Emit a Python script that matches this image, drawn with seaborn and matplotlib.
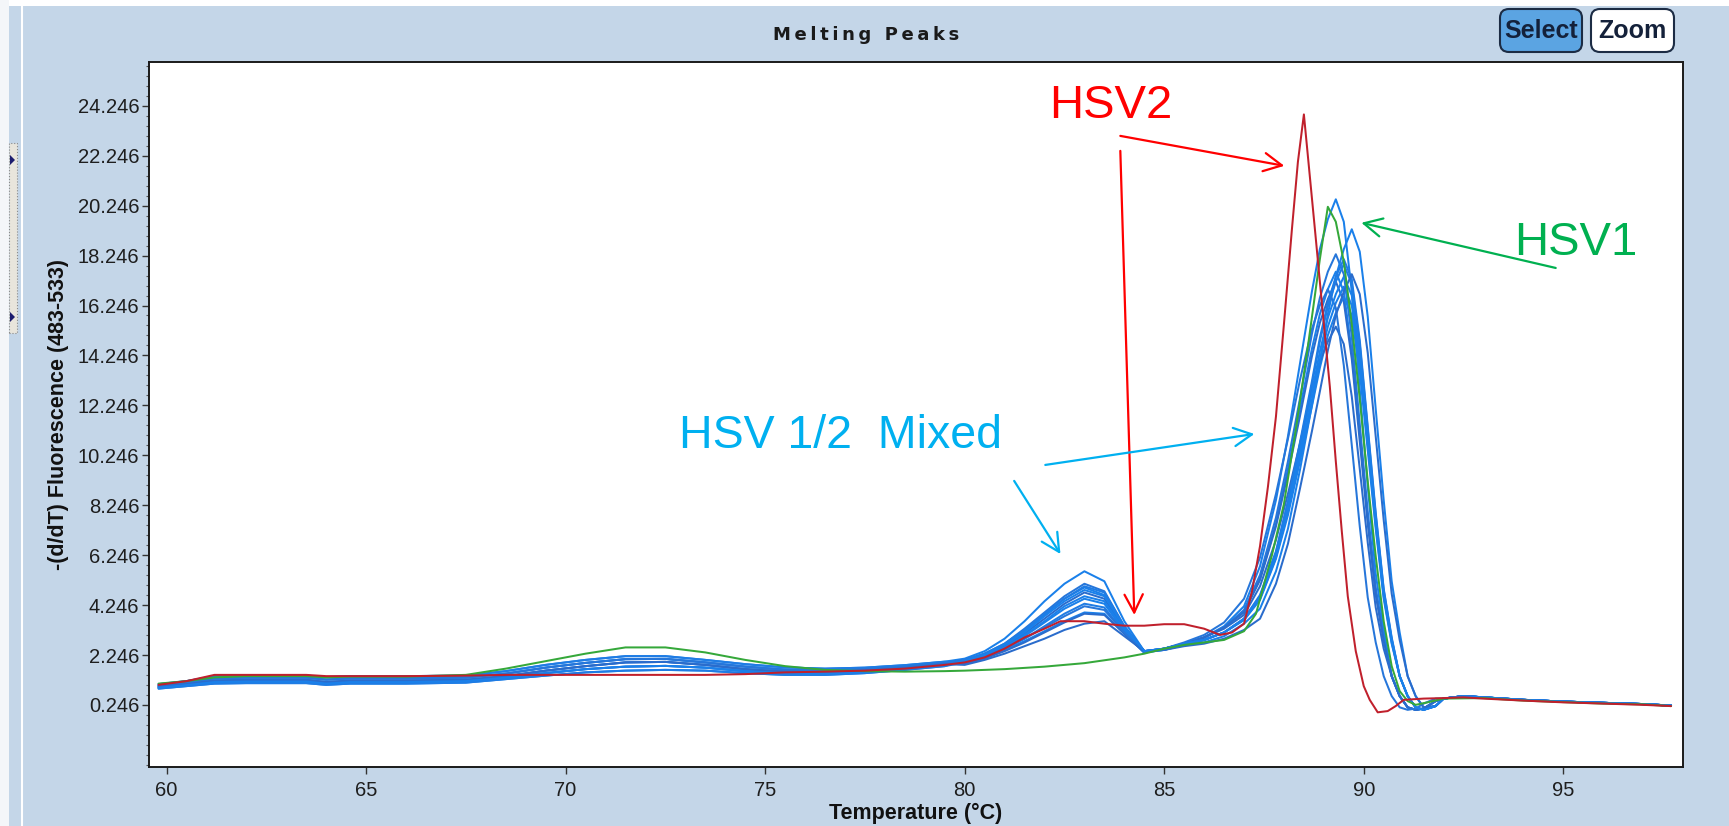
import matplotlib
matplotlib.use("Agg")
import matplotlib.pyplot as plt
from matplotlib import font_manager
from matplotlib.patches import Rectangle, FancyBboxPatch, Polygon
from matplotlib.lines import Line2D
from matplotlib.ticker import FixedLocator
import numpy as np
import pandas as pd
import seaborn as sns

# ---------------------------------------------------------------------------
# Melting-peak data, -(d/dT) fluorescence (483-533) versus temperature
# ---------------------------------------------------------------------------
# Low-temperature stretch shared by the blue traces (five baseline shapes,
# from the top of the band to its bottom)
T_LOW = [59.8, 60.5, 61.2, 62.0, 63.5, 64.0, 64.6, 66.0, 67.5, 68.5, 69.5,
         70.5, 71.5, 72.5, 73.5, 74.5, 75.5, 76.5, 77.5, 78.5, 79.5]
BLUE_LOW_A = [1.08, 1.2, 1.4, 1.42, 1.42, 1.36, 1.4, 1.4, 1.42, 1.6, 1.85,
              2.05, 2.2, 2.2, 2.05, 1.88, 1.75, 1.7, 1.74, 1.84, 1.98]
BLUE_LOW_AB = [1.03, 1.14, 1.31, 1.34, 1.34, 1.26, 1.31, 1.31, 1.34, 1.5, 1.74,
               1.93, 2.08, 2.09, 1.95, 1.78, 1.66, 1.62, 1.68, 1.78, 1.93]
BLUE_LOW_B = [0.98, 1.08, 1.22, 1.25, 1.25, 1.16, 1.22, 1.22, 1.25, 1.4, 1.62,
              1.8, 1.95, 1.97, 1.85, 1.68, 1.58, 1.55, 1.62, 1.72, 1.88]
BLUE_LOW_BC = [0.94, 1.04, 1.16, 1.18, 1.18, 1.1, 1.16, 1.16, 1.2, 1.34, 1.52,
               1.68, 1.78, 1.81, 1.74, 1.6, 1.51, 1.5, 1.57, 1.68, 1.84]
BLUE_LOW_C = [0.9, 1.0, 1.1, 1.12, 1.12, 1.05, 1.1, 1.1, 1.14, 1.28, 1.42,
              1.55, 1.62, 1.65, 1.62, 1.52, 1.45, 1.45, 1.52, 1.65, 1.8]

# Shoulder (first melting peak of the mixed samples)
T_SHOULDER = [80.0, 80.5, 81.0, 81.5, 82.0, 82.5, 83.0, 83.5, 84.0, 84.5, 85.0, 85.5]
# Main melting peak
T_PEAK = [86.0, 86.5, 87.0, 87.4, 87.8, 88.1, 88.4, 88.7, 88.9, 89.1, 89.3, 89.5,
          89.7, 89.9, 90.1, 90.3, 90.5, 90.7, 90.9, 91.1, 91.3, 91.5, 91.8]
# High-temperature tail
T_TAIL = [92.0, 92.5, 93.0, 94.0, 95.0, 96.0, 97.0, 97.7]
BLUE_TAIL = [0.5, 0.6, 0.55, 0.45, 0.38, 0.33, 0.28, 0.22]

BLUE_LOW_KIND = ["A", "AB", "B", "BC", "C", "A", "AB", "B", "BC", "C", "AB", "B", "BC"]

BLUE_SHOULDER = [
    [2.1, 2.4, 2.9, 3.6, 4.4, 5.1, 5.6, 5.2, 3.6, 2.4, 2.45, 2.7],
    [2.05, 2.3, 2.7, 3.3, 3.95, 4.6, 5.1, 4.8, 3.4, 2.4, 2.5, 2.7],
    [2.0, 2.3, 2.65, 3.2, 3.85, 4.5, 4.95, 4.65, 3.35, 2.4, 2.5, 2.7],
    [2.0, 2.25, 2.6, 3.1, 3.7, 4.3, 4.75, 4.5, 3.3, 2.4, 2.5, 2.7],
    [1.95, 2.2, 2.55, 3.0, 3.55, 4.1, 4.5, 4.3, 3.2, 2.35, 2.45, 2.65],
    [1.95, 2.15, 2.5, 2.9, 3.4, 3.9, 4.3, 4.15, 3.15, 2.35, 2.45, 2.65],
    [1.9, 2.15, 2.45, 2.8, 3.2, 3.6, 3.95, 3.9, 3.1, 2.35, 2.5, 2.7],
    [1.9, 2.1, 2.4, 2.75, 3.15, 3.55, 3.9, 3.85, 3.1, 2.35, 2.5, 2.7],
    [2.0, 2.2, 2.55, 3.05, 3.6, 4.2, 4.6, 4.4, 3.25, 2.4, 2.5, 2.7],
    [2.05, 2.3, 2.7, 3.25, 3.9, 4.5, 5.0, 4.75, 3.4, 2.4, 2.5, 2.7],
    [1.95, 2.2, 2.5, 2.9, 3.35, 3.8, 4.2, 4.05, 3.15, 2.35, 2.5, 2.75],
    [1.85, 2.05, 2.3, 2.6, 2.9, 3.25, 3.5, 3.6, 3.0, 2.4, 2.45, 2.6],
    [2.0, 2.25, 2.65, 3.15, 3.8, 4.4, 4.85, 4.6, 3.35, 2.4, 2.5, 2.7],
]

BLUE_PEAK = [
    [2.95, 3.35, 4.0, 5.3, 7.5, 9.7, 12.1, 14.5, 15.9, 16.9, 17.6, 16.8,
     14.4, 11.1, 7.7, 4.75, 2.9, 1.4, 0.6, 0.15, 0.05, 0.1, 0.4],
    [2.95, 3.35, 4.05, 5.45, 7.75, 10.0, 12.5, 15.1, 16.55, 17.6, 18.3, 17.5,
     15.0, 11.5, 8.0, 4.95, 3.0, 1.4, 0.6, 0.15, 0.05, 0.1, 0.4],
    [2.95, 3.4, 4.2, 5.8, 8.45, 11.0, 13.9, 16.8, 18.5, 19.7, 20.5, 19.6,
     16.8, 12.9, 9.0, 5.5, 3.3, 1.4, 0.6, 0.15, 0.05, 0.1, 0.4],
    [2.95, 3.35, 3.95, 5.25, 7.4, 9.5, 11.8, 14.2, 15.55, 16.5, 17.2, 16.4,
     14.1, 10.8, 7.5, 4.65, 2.8, 1.4, 0.6, 0.15, 0.05, 0.1, 0.4],
    [2.75, 3.0, 3.5, 4.1, 5.6, 7.3, 9.65, 12.25, 14.0, 15.9, 17.4, 18.5,
     19.3, 18.4, 15.8, 12.1, 8.45, 5.2, 3.15, 1.4, 0.6, 0.15, 0.2],
    [2.85, 3.15, 3.7, 4.6, 6.35, 8.35, 10.65, 13.05, 14.8, 16.2, 17.2, 17.9,
     17.1, 14.7, 11.3, 7.85, 4.85, 2.9, 1.4, 0.6, 0.15, 0.05, 0.2],
    [2.85, 3.15, 3.65, 4.45, 6.1, 7.85, 10.0, 12.2, 13.75, 15.05, 15.95, 16.6,
     15.85, 13.6, 10.45, 7.3, 4.5, 2.7, 1.4, 0.6, 0.15, 0.05, 0.2],
    [2.95, 3.3, 3.85, 5.0, 6.85, 8.7, 10.7, 12.8, 14.0, 14.8, 15.4, 14.7,
     12.6, 9.7, 6.75, 4.15, 2.5, 1.4, 0.6, 0.15, 0.05, 0.1, 0.4],
    [2.85, 3.15, 3.65, 4.5, 6.15, 8.0, 10.2, 12.45, 14.05, 15.4, 16.35, 17.0,
     16.25, 13.95, 10.7, 7.45, 4.6, 2.75, 1.4, 0.6, 0.15, 0.05, 0.2],
    [2.85, 3.15, 3.7, 4.65, 6.4, 8.4, 10.75, 13.2, 14.95, 16.35, 17.4, 18.1,
     17.3, 14.85, 11.4, 7.95, 4.9, 2.95, 1.4, 0.6, 0.15, 0.05, 0.2],
    [3.05, 3.55, 4.5, 6.15, 8.7, 10.9, 13.25, 15.3, 16.25, 16.9, 16.15, 13.85,
     10.65, 7.4, 4.55, 2.75, 1.4, 0.6, 0.15, 0.05, 0.1, 0.3, 0.5],
    [2.7, 2.9, 3.25, 3.7, 5.1, 6.7, 8.9, 11.2, 12.8, 14.45, 15.85, 16.8,
     17.5, 16.7, 14.35, 11.0, 7.65, 4.7, 2.85, 1.4, 0.6, 0.15, 0.2],
    [2.85, 3.15, 3.7, 4.55, 6.25, 8.15, 10.4, 12.75, 14.4, 15.75, 16.7, 17.4,
     16.65, 14.3, 10.95, 7.65, 4.7, 2.85, 1.4, 0.6, 0.15, 0.05, 0.2],
]
BLUE_SHADES = ["#1a80ea", "#2676da", "#1a80ea", "#2a6ccc", "#1a80ea", "#1f7ce4",
               "#1a80ea", "#2a6ccc", "#1a80ea", "#1f7ce4", "#2676da", "#2a6ccc",
               "#1a80ea"]

# HSV-2 trace
RED_T = [59.8, 60.5, 61.2, 62.0, 63.5, 64.0, 64.6, 66.0, 67.5, 68.5, 69.5,
         70.5, 71.5, 72.5, 73.5, 74.5, 75.5, 76.5, 77.5, 78.5, 79.5,
         80.0, 80.5, 81.0, 81.5, 82.0, 82.4, 83.0, 83.5, 84.0, 84.5, 85.0, 85.5,
         86.0, 86.4, 86.7, 87.0, 87.2, 87.4, 87.6, 87.8, 88.0, 88.2, 88.35, 88.5,
         88.65, 88.8, 89.0, 89.15, 89.3, 89.45, 89.6, 89.8, 90.0, 90.15, 90.35,
         90.6, 90.8, 91.0, 91.5, 92.0, 92.5, 93.0, 94.0, 95.0, 96.0, 97.0, 97.7]
RED_V = [1.05, 1.2, 1.45, 1.45, 1.45, 1.4, 1.4, 1.4, 1.42, 1.45, 1.45,
         1.45, 1.45, 1.45, 1.45, 1.48, 1.55, 1.58, 1.62, 1.7, 1.85,
         1.95, 2.15, 2.5, 2.95, 3.3, 3.6, 3.6, 3.5, 3.42, 3.42, 3.48, 3.48,
         3.3, 3.05, 3.15, 3.5, 4.8, 6.6, 9.0, 11.8, 15.5, 19.3, 22.0, 23.9,
         21.4, 18.9, 15.5, 13.0, 10.0, 7.2, 4.6, 2.4, 1.0, 0.45, -0.05,
         0.0, 0.2, 0.45, 0.5, 0.52, 0.55, 0.5, 0.42, 0.35, 0.3, 0.25, 0.2]

# HSV-1 trace
GREEN_T = [59.8, 60.5, 61.2, 62.0, 63.5, 64.0, 64.6, 66.0, 67.5, 68.5, 69.5,
           70.5, 71.5, 72.5, 73.5, 74.5, 75.5, 76.5, 77.5, 78.5, 79.5,
           80.0, 81.0, 82.0, 83.0, 84.0, 84.5, 85.0, 85.5, 86.0, 86.5, 87.0,
           87.3, 87.7, 88.0, 88.3, 88.6, 88.9, 89.1, 89.3, 89.5, 89.7, 89.9,
           90.1, 90.3, 90.5, 90.7, 90.9, 91.1, 91.3, 91.6, 92.0, 93.0, 94.0,
           95.0, 96.0, 97.0, 97.7]
GREEN_V = [1.1, 1.2, 1.35, 1.4, 1.4, 1.35, 1.38, 1.38, 1.45, 1.7, 2.0,
           2.3, 2.55, 2.55, 2.35, 2.05, 1.8, 1.65, 1.6, 1.58, 1.6,
           1.62, 1.68, 1.78, 1.92, 2.15, 2.3, 2.5, 2.65, 2.75, 2.85, 3.2,
           3.9, 6.25, 8.3, 11.3, 14.6, 18.1, 20.2, 19.6, 18.0, 15.5, 12.5,
           9.2, 6.2, 3.6, 1.8, 0.8, 0.4, 0.25, 0.35, 0.5, 0.52, 0.42,
           0.36, 0.3, 0.27, 0.2]

# Axis ticks
X_TICKS = [60, 65, 70, 75, 80, 85, 90, 95]
Y_TICKS = [0.246, 2.246, 4.246, 6.246, 8.246, 10.246, 12.246, 14.246,
           16.246, 18.246, 20.246, 22.246, 24.246]

# ---------------------------------------------------------------------------
blue_low = {"A": BLUE_LOW_A, "AB": BLUE_LOW_AB, "B": BLUE_LOW_B,
            "BC": BLUE_LOW_BC, "C": BLUE_LOW_C}
frames = []
palette = {}
order = []
for i, (kind, sh, pk) in enumerate(zip(BLUE_LOW_KIND, BLUE_SHOULDER, BLUE_PEAK)):
    t = T_LOW + T_SHOULDER + T_PEAK + T_TAIL
    v = blue_low[kind] + sh + pk + BLUE_TAIL
    name = f"mixed {i + 1}"
    frames.append(pd.DataFrame({"temp": t, "value": v, "sample": name}))
    palette[name] = BLUE_SHADES[i]
    order.append(name)
frames.append(pd.DataFrame({"temp": GREEN_T, "value": GREEN_V, "sample": "HSV1"}))
frames.append(pd.DataFrame({"temp": RED_T, "value": RED_V, "sample": "HSV2"}))
palette["HSV1"] = "#35a83a"
palette["HSV2"] = "#c0202c"
order += ["HSV1", "HSV2"]
df = pd.concat(frames, ignore_index=True)

sns.set_theme(style="white")
installed = {f.name for f in font_manager.fontManager.ttflist}
NARROW = "Liberation Sans Narrow" if "Liberation Sans Narrow" in installed else "Liberation Sans"
plt.rcParams["font.family"] = ["Liberation Sans", "DejaVu Sans"]

BG = "#c4d6e8"
W, H = 1729, 826
fig = plt.figure(figsize=(W / 100, H / 100), dpi=100, facecolor=BG)

# frame in pixels: left 149, right 1683, top 62, bottom 767
ax = fig.add_axes([149 / W, 1 - 767 / H, (1683 - 149) / W, (767 - 62) / H])
ax.set_facecolor("white")

sns.lineplot(data=df, x="temp", y="value", hue="sample", hue_order=order,
             palette=palette, estimator=None, sort=False, legend=False,
             linewidth=1.45, ax=ax)

ax.set_xlim(59.56, 98.0)
ax.set_ylim(-2.24, 26.0)
ax.xaxis.set_major_locator(FixedLocator(X_TICKS))
ax.set_xticklabels([str(x) for x in X_TICKS])
ax.yaxis.set_major_locator(FixedLocator(Y_TICKS))
ax.set_yticklabels([f"{y:.3f}" for y in Y_TICKS])
ax.yaxis.set_minor_locator(FixedLocator(np.arange(-2.154, 26.0, 0.4)))
ax.tick_params(axis="both", which="major", direction="out", length=5, width=1.0,
               color="#333333", labelsize=14.5, labelcolor="#1e1e1e", pad=2,
               bottom=True, left=True)
ax.tick_params(axis="x", which="major", pad=5)
ax.tick_params(axis="y", which="minor", direction="out", length=2.5, width=0.8,
               color="#555555", left=True)
for lab in ax.get_xticklabels() + ax.get_yticklabels():
    lab.set_family(NARROW)
for s in ax.spines.values():
    s.set_color("#1a1a1a")
    s.set_linewidth(1.4)

ax.set_xlabel("Temperature (°C)", fontsize=15.5, fontweight="bold",
              color="#111111", labelpad=2)
ax.set_ylabel("-(d/dT) Fluorescence (483-533)", fontsize=15.5, fontweight="bold",
              color="#111111", labelpad=6)

# Annotations
RED, GREEN, CYAN = "#ff0000", "#00b050", "#00b0f0"
arrow_kw = dict(arrowstyle="->,head_length=0.65,head_width=0.33",
                mutation_scale=20, shrinkA=0, shrinkB=0, lw=1.6)
ax.text(83.67, 23.75, "HSV2", color=RED, fontsize=34, ha="center", va="baseline")
ax.annotate("", xy=(88.01, 21.84), xytext=(83.9, 23.04),
            arrowprops=dict(color=RED, **arrow_kw))
ax.annotate("", xy=(84.25, 3.85), xytext=(83.9, 22.44),
            arrowprops=dict(color=RED, **arrow_kw))

ax.text(95.31, 18.27, "HSV1", color=GREEN, fontsize=34, ha="center", va="baseline")
ax.annotate("", xy=(89.94, 19.56), xytext=(94.81, 17.75),
            arrowprops=dict(color=GREEN, **arrow_kw))

ax.text(76.88, 10.54, "HSV 1/2  Mixed", color=CYAN, fontsize=33.5,
        ha="center", va="baseline")
ax.annotate("", xy=(87.26, 11.1), xytext=(82.02, 9.86),
            arrowprops=dict(color=CYAN, **arrow_kw))
ax.annotate("", xy=(82.4, 6.29), xytext=(81.24, 9.22),
            arrowprops=dict(color=CYAN, **arrow_kw))

# Window chrome: title, buttons and the left edge
TITLE = "Melting Peaks"
spaced_title = "\u2009".join(TITLE)
fig.text(866 / W, 1 - 35 / H, spaced_title, ha="center", va="center",
         fontsize=13, fontweight="bold", color="#1a1a1a", family="DejaVu Sans")


def px_box(x0, y0, x1, y1, face, edge, radius):
    box = FancyBboxPatch((x0, H - y1), x1 - x0, y1 - y0,
                         boxstyle=f"round,pad=0,rounding_size={radius}",
                         facecolor=face, edgecolor=edge, linewidth=1.5,
                         transform=None)
    fig.add_artist(box)


px_box(1500, 9, 1582, 52, "#5ba4e2", "#1c2c44", 9)
px_box(1591, 9, 1674, 52, "white", "#1c2c44", 9)
fig.text(1541 / W, 1 - 31 / H, "Select", ha="center", va="center", fontsize=18,
         fontweight="bold", color="#14213a")
fig.text(1632.5 / W, 1 - 31 / H, "Zoom", ha="center", va="center", fontsize=18,
         fontweight="bold", color="#14213a")

fig.add_artist(Rectangle((0, 1 - 6 / H), 1, 6 / H, transform=fig.transFigure,
                         facecolor="white", edgecolor="none"))
fig.add_artist(Rectangle((0, 0), 9 / W, 1, transform=fig.transFigure,
                         facecolor="#f4f6f9", edgecolor="none"))
fig.add_artist(Rectangle((9 / W, 1 - 333 / H), 8 / W, 190 / H, transform=fig.transFigure,
                         facecolor="#e8e5dc", edgecolor="#8a8a8a", linewidth=0.8,
                         linestyle=":"))
for yy in (160, 317):
    fig.add_artist(Polygon([(10 / W, 1 - (yy - 5) / H), (10 / W, 1 - (yy + 5) / H),
                            (15 / W, 1 - yy / H)], closed=True,
                           transform=fig.transFigure, facecolor="#1c1c6e",
                           edgecolor="none"))
fig.add_artist(Line2D([22 / W, 22 / W], [0, 1 - 6 / H], transform=fig.transFigure,
                      color="white", linewidth=1.5))

fig.savefig("out.png", dpi=100, facecolor=BG)
